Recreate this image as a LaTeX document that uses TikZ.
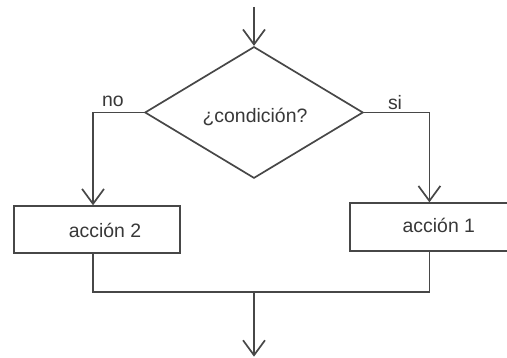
\documentclass[tikz,border=0pt]{standalone}
\usepackage{fontspec}
\setmainfont{Liberation Sans}
\usetikzlibrary{shapes.geometric,arrows.meta}
\definecolor{ln}{HTML}{474747}
\definecolor{tx}{HTML}{383838}
\begin{document}
\begin{tikzpicture}[x=1pt,y=1pt,
  line width=1.7pt,
  every path/.style={draw=ln},
  arr/.style={-{Straight Barb[length=15pt,width=22pt,line width=1.7pt]}},
  lbl/.style={text=tx,font=\fontsize{19.5}{23}\selectfont,inner sep=0pt,anchor=base},
  box/.style={draw=ln,rectangle,inner sep=0pt},
  dia/.style={draw=ln,diamond,inner sep=0pt,minimum width=219pt,minimum height=132pt}]
\useasboundingbox (0,0) rectangle (507,-357);
\fill[white] (0,0) rectangle (507,-357);
\node[dia] (d) at (254,-112) {};
\node[lbl] (cond) at (255,-122) {¿condición?};
\node[box,minimum width=167pt,minimum height=47pt] (a2) at (96.5,-229.5) {};
\node[lbl] (t2) at (104.5,-237) {acción 2};
\node[box,minimum width=160pt,minimum height=48pt] (a1) at (430,-227) {};
\node[lbl] (t1) at (439.5,-232) {acción 1};
\node[lbl] (no) at (112.5,-106) {no};
\node[lbl] (si) at (395.5,-109) {si};
\coordinate (topin) at (254,-6);
\coordinate (join) at (254,-292);
\coordinate (out) at (254,-357);
\draw[arr] (topin) -- (d.north);
\draw[arr] (d.west) -| ([xshift=-4pt]a2.north);
\draw[arr] (d.east) -| (a1.north);
\draw ([xshift=-4pt]a2.south) |- (join) -| (a1.south);
\draw[arr] (join) -- (out);
\end{tikzpicture}
\end{document}
